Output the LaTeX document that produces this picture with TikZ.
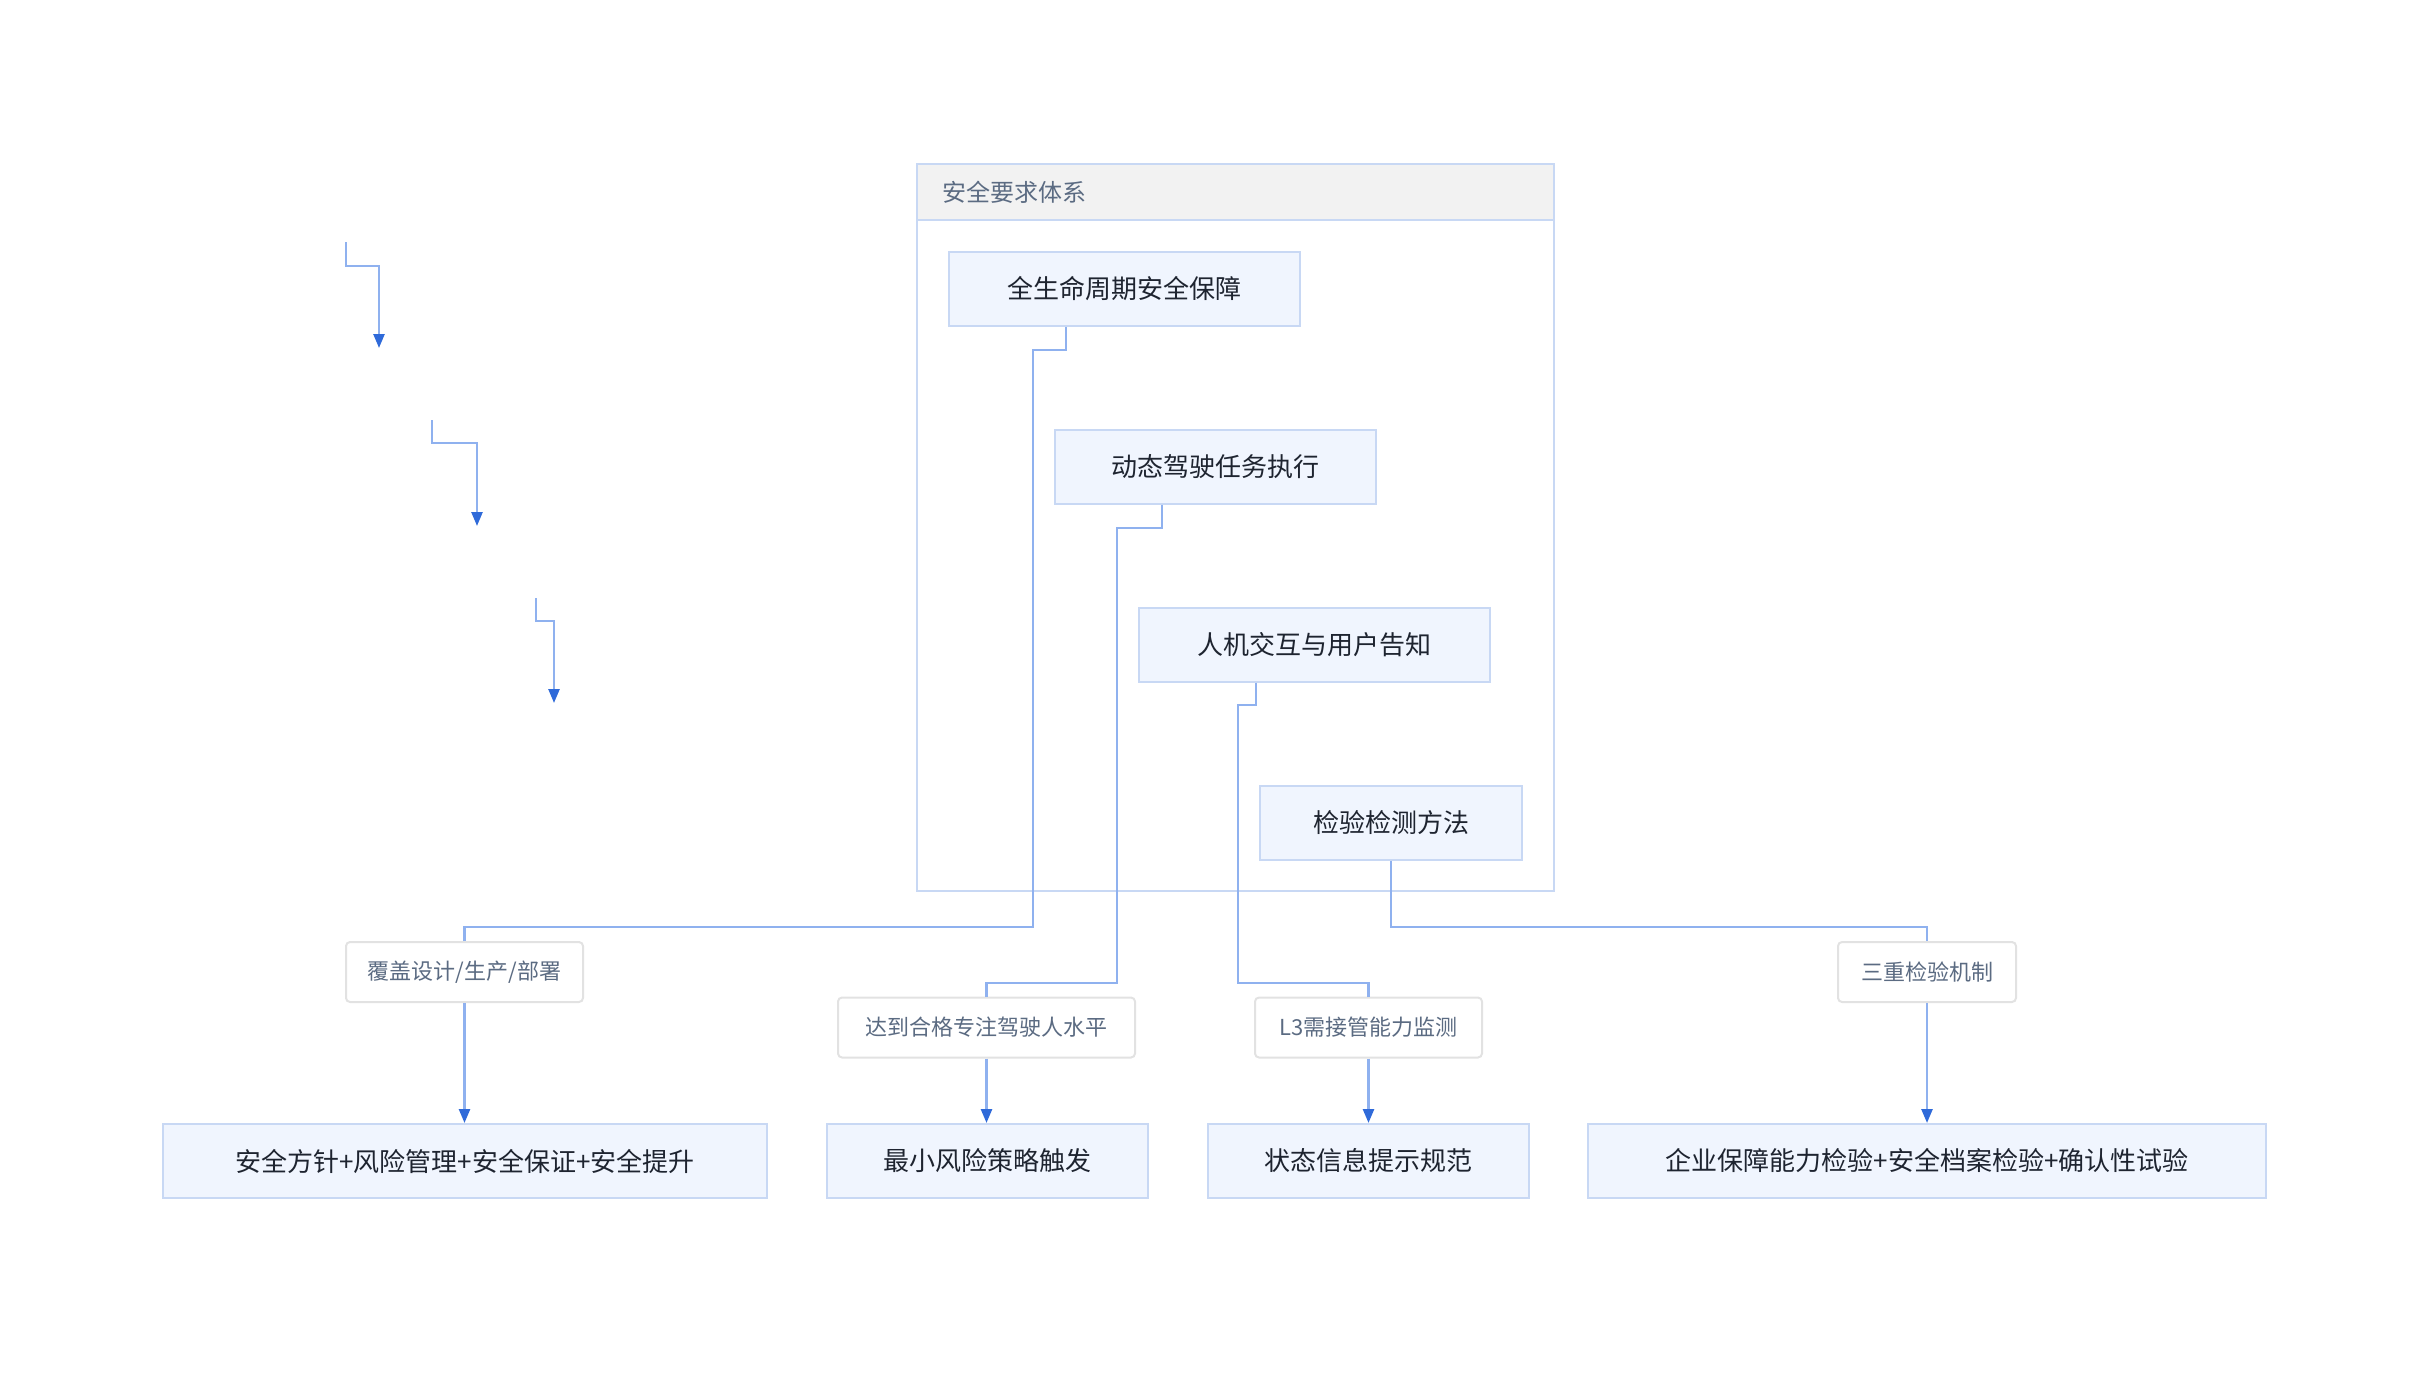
\documentclass[tikz,border=0pt]{standalone}
\usepackage{fontspec}
\setmainfont{Noto Sans CJK SC}
\usetikzlibrary{arrows.meta,calc}
\definecolor{linkc}{HTML}{8FB1EF}
\definecolor{tipc}{HTML}{2F6AD9}
\definecolor{nodefill}{HTML}{F0F5FE}
\definecolor{nodeline}{HTML}{C8D8F4}
\definecolor{labline}{HTML}{E2E2E2}
\definecolor{labtext}{HTML}{5B6B82}
\definecolor{nodetext}{HTML}{1E2430}
\definecolor{headfill}{HTML}{F2F2F2}
\tikzset{
  box/.style={draw=nodeline, fill=nodefill, line width=2pt, inner sep=0pt,
    minimum height=74pt, text=nodetext, font=\fontsize{26}{30}\selectfont},
  lab/.style={draw=labline, fill=white, line width=2pt, rounded corners=4pt,
    inner sep=0pt, minimum height=60pt, text=labtext, font=\fontsize{22}{26}\selectfont},
  link/.style={draw=linkc, line width=2.5pt},
  arrowlink/.style={link, -{Triangle[length=14pt,width=11pt,color=tipc]}},
}
\begin{document}
\begin{tikzpicture}[x=1pt,y=-1pt]
\useasboundingbox (0,0) rectangle (2430,1390);
% cluster
\draw[draw=nodeline, line width=2.5pt, fill=white] (917,164) rectangle (1554,891);
\draw[draw=nodeline, line width=2.5pt, fill=headfill] (917,164) rectangle (1554,220);
\node[anchor=west, inner sep=0pt, text=labtext, font=\fontsize{24}{28}\selectfont] (title) at (942,192) {安全要求体系};
% inner nodes
\node[box, minimum width=351pt] (A) at (1124.5,289) {全生命周期安全保障};
\node[box, minimum width=321pt] (B) at (1215.5,466.5) {动态驾驶任务执行};
\node[box, minimum width=351pt] (C) at (1314.5,644.5) {人机交互与用户告知};
\node[box, minimum width=262pt] (D) at (1391,822.5) {检验检测方法};
% labels
\node[lab, minimum width=237pt] (L1) at (464.5,972) {覆盖设计/生产/部署};
\node[lab, minimum width=297pt] (L2) at (986.5,1027.5) {达到合格专注驾驶人水平};
\node[lab, minimum width=227pt] (L3) at (1368.5,1027.5) {L3需接管能力监测};
\node[lab, minimum width=178pt] (L4) at (1927,972) {三重检验机制};
% bottom nodes
\node[box, minimum width=604pt] (E1) at (465,1161) {安全方针+风险管理+安全保证+安全提升};
\node[box, minimum width=321pt] (E2) at (987.5,1161) {最小风险策略触发};
\node[box, minimum width=321pt] (E3) at (1368.5,1161) {状态信息提示规范};
\node[box, minimum width=678pt] (E4) at (1927,1161) {企业保障能力检验+安全档案检验+确认性试验};
% helper coordinates
\coordinate (hA) at (0,927);
\coordinate (hB) at (0,983);
% connectors
\draw[link] ([xshift=-58.5pt]A.south) |- (1033,350) |- (L1.north |- hA) -- (L1.north);
\draw[link] ([xshift=-53.5pt]B.south) |- (1117,528) |- (L2.north |- hB) -- (L2.north);
\draw[link] ([xshift=-58.5pt]C.south) |- (1238,705) |- (L3.north |- hB) -- (L3.north);
\draw[link] (D.south) |- (L4.north |- hA) -- (L4.north);
\draw[arrowlink] (L1.south) -- (L1.south |- E1.north);
\draw[arrowlink] (L2.south) -- (L2.south |- E2.north);
\draw[arrowlink] (L3.south) -- (L3.south |- E3.north);
\draw[arrowlink] (L4.south) -- (L4.south |- E4.north);
% stray arrows
\coordinate (s1) at (346,242); \coordinate (t1) at (379,348);
\coordinate (s2) at (432,420); \coordinate (t2) at (477,526);
\coordinate (s3) at (536,598); \coordinate (t3) at (554,703);
\draw[arrowlink] (s1) |- (379,266) -- (t1);
\draw[arrowlink] (s2) |- (477,443) -- (t2);
\draw[arrowlink] (s3) |- (554,621) -- (t3);
\end{tikzpicture}
\end{document}
